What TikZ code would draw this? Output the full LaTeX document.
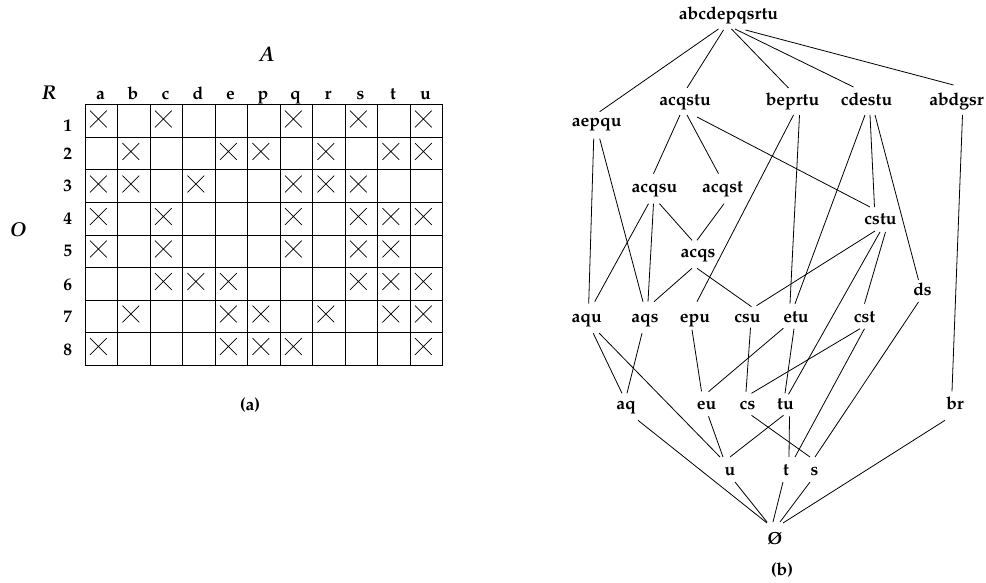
\documentclass[tikz,border=0pt]{standalone}
\usepackage[T1]{fontenc}
\usepackage{mathpazo}
\begin{document}
\begin{tikzpicture}[x=1pt,y=-1pt,
  lab/.style={font=\fontsize{17.5}{20}\selectfont\bfseries, inner sep=0pt, anchor=base},
  ital/.style={font=\fontsize{20}{24}\selectfont\bfseries\itshape, inner sep=0pt, anchor=base},
  gridline/.style={line width=1pt},
  xmark/.style={line width=0.75pt},
  edge/.style={line width=0.8pt}]
\useasboundingbox (0,0) rectangle (986,583);

% ---------- (a) the context table ----------
\foreach \i in {0,...,11} \draw[gridline] ({85+32.5*\i},105) -- ({85+32.5*\i},365);
\foreach \j in {0,...,8} \draw[gridline] (85,{105+32.5*\j}) -- (442.5,{105+32.5*\j});

\foreach \l [count=\k from 0] in {a,b,c,d,e,p,q,r,s,t,u}
  \node[lab] (col-\l) at ({85+32.5*\k+15.5},100) {\l};
\foreach \n/\yb in {1/131.5,2/160,3/191.7,4/224.3,5/256.7,6/290,7/322.7,8/355}
  \node[lab] (row-\n) at (67.7,\yb) {\n};

\foreach \r/\cl in {0/{0,2,6,8,10},1/{1,4,5,7,9,10},2/{0,1,3,6,7,8},3/{0,2,6,8,9,10},
                    4/{0,2,6,8,9},5/{2,3,4,8,9,10},6/{1,4,5,7,9,10},7/{0,4,5,6,10}}
  \foreach \c in \cl
    \draw[xmark] ({85+32.5*\c+5},{105+32.5*\r+5.7}) -- ++(16.7,16.7) ++(0,-16.7) -- ++(-16.7,16.7);

\node[ital,font=\fontsize{21}{24}\selectfont\bfseries\itshape] (A) at (267,61.7) {A};
\node[ital] (R) at (49,100) {R};
\node[ital] (O) at (18.3,236.7) {O};
\node[lab] (capa) at (250,410) {(a)};

% ---------- (b) the lattice ----------
\node[lab] (top) at (728.5,20) {abcdepqsrtu};
\node[lab] (aepqu) at (596.7,126.7) {aepqu};
\node[lab] (acqstu) at (685,106) {acqstu};
\node[lab] (beprtu) at (792.5,106) {beprtu};
\node[lab] (cdestu) at (866.5,106) {cdestu};
\node[lab] (abdgsr) at (956.5,106) {abdgsr};
\node[lab] (acqsu) at (654.5,192.7) {acqsu};
\node[lab] (acqst) at (722.5,192.7) {acqst};
\node[lab] (cstu) at (880.5,225) {cstu};
\node[lab] (acqs) at (698,257.3) {acqs};
\node[lab] (ds) at (922.5,295) {ds};
\node[lab] (aqu) at (586.7,322.7) {aqu};
\node[lab] (aqs) at (645,322.7) {aqs};
\node[lab] (epu) at (695,322.7) {epu};
\node[lab] (csu) at (747.5,322.7) {csu};
\node[lab] (etu) at (796,322.7) {etu};
\node[lab] (cst) at (864.5,322.7) {cst};
\node[lab] (aq) at (626,409.3) {aq};
\node[lab] (eu) at (706.5,409.3) {eu};
\node[lab] (cs) at (747.5,409.3) {cs};
\node[lab] (tu) at (785.5,409.3) {tu};
\node[lab] (br) at (955,409.3) {br};
\node[lab] (u) at (730,475) {u};
\node[lab] (t) at (786,475) {t};
\node[lab] (s) at (814.5,475) {s};
\node[lab] (empty) at (775,544) {\O};
\node[lab] (capb) at (782,575) {(b)};

\newcommand\lnk[6]{\draw[edge] ([shift={(#2,#3)}]#1.base) -- ([shift={(#5,#6)}]#4.base);}
\lnk{top}{-10}{9}{aepqu}{3}{-15}
\lnk{top}{-5}{10}{acqstu}{2}{-18}
\lnk{top}{3}{9}{beprtu}{-4}{-18}
\lnk{top}{6.5}{9}{cdestu}{-13}{-19}
\lnk{top}{17}{10}{abdgsr}{-3}{-21}
\lnk{acqstu}{-5}{9}{acqsu}{-1}{-19}
\lnk{acqstu}{2}{9}{acqst}{-4}{-19}
\lnk{acqstu}{12}{11}{cstu}{-10.5}{-18}
\lnk{aepqu}{-3}{12}{aqu}{2}{-19}
\lnk{aepqu}{3}{12}{aqs}{-2}{-21}
\lnk{beprtu}{1}{9}{epu}{2}{-21}
\lnk{beprtu}{7}{9}{etu}{-6}{-19}
\lnk{cdestu}{-1.5}{9}{etu}{-1}{-19}
\lnk{cdestu}{3.5}{9}{cstu}{-6}{-18}
\lnk{cdestu}{8.5}{9}{ds}{-4}{-15}
\lnk{abdgsr}{6}{9}{br}{-3}{-18}
\lnk{acqsu}{-6}{11}{aqu}{8}{-21}
\lnk{acqsu}{-1}{11}{aqs}{3}{-21}
\lnk{acqsu}{5}{11}{acqs}{-6}{-17}
\lnk{acqst}{1.5}{11}{acqs}{-1}{-17}
\lnk{acqs}{-6}{11}{aqs}{9}{-21}
\lnk{acqs}{-1}{11}{csu}{4}{-16}
\lnk{cstu}{-5.5}{6}{csu}{9}{-17}
\lnk{cstu}{-0.5}{7}{tu}{3}{-15}
\lnk{cstu}{5}{7}{cst}{0}{-19}
\lnk{aqu}{6.5}{10.5}{aq}{-4}{-16}
\lnk{aqu}{12.5}{10.5}{u}{-10}{-18}
\lnk{aqs}{-3}{10.5}{aq}{1}{-16}
\lnk{epu}{-3}{7}{eu}{-5}{-18}
\lnk{csu}{3}{5}{cs}{-1.5}{-17.5}
\lnk{etu}{-12.7}{5.6}{eu}{2}{-17.6}
\lnk{etu}{-2}{6}{tu}{-0.5}{-16}
\lnk{cst}{-4.5}{6}{cs}{4}{-16}
\lnk{cst}{0}{6}{t}{9}{-18}
\lnk{ds}{-4}{7}{s}{0.5}{-18}
\lnk{aq}{12}{11}{empty}{-8}{-21}
\lnk{eu}{2}{7}{u}{-7}{-18}
\lnk{tu}{-2}{6}{u}{0}{-18}
\lnk{tu}{4}{7}{t}{3}{-18}
\lnk{cs}{4}{6}{s}{-4.5}{-18}
\lnk{br}{-10}{11}{empty}{8}{-21}
\lnk{u}{5}{7}{empty}{-8}{-22}
\lnk{t}{-3}{7}{empty}{-2}{-22}
\lnk{s}{-4.5}{7}{empty}{5}{-22}
\end{tikzpicture}
\end{document}
